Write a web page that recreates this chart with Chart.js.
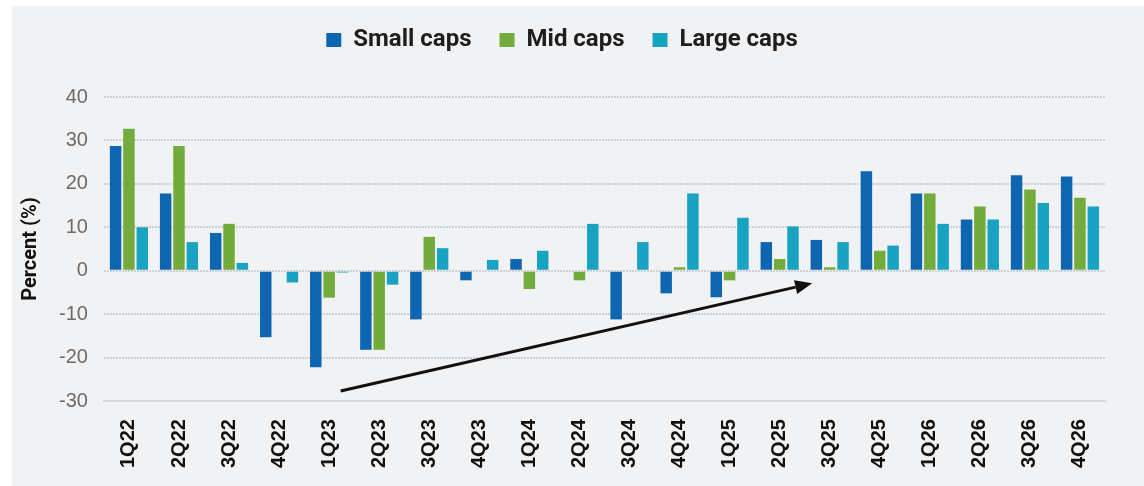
<!DOCTYPE html>
<html>
<head>
<meta charset="utf-8">
<script src="https://cdn.jsdelivr.net/npm/chart.js@4"></script>
<style>
  html, body { margin: 0; padding: 0; background: #ffffff; }
  #panel { position: absolute; left: 12px; top: 6px; width: 1132px; height: 480px; background: #f1f2f4; }
  #wrap { position: absolute; left: 0; top: 0; width: 1144px; height: 486px; }
</style>
</head>
<body>
<div id="panel"></div>
<div id="wrap"><canvas id="myChart"></canvas></div>
<script>
const quarters = ['1Q22','2Q22','3Q22','4Q22','1Q23','2Q23','3Q23','4Q23','1Q24','2Q24',
                  '3Q24','4Q24','1Q25','2Q25','3Q25','4Q25','1Q26','2Q26','3Q26','4Q26'];
const smallCaps = [28.7, 17.8, 8.7, -15.3, -22.2, -18.2, -11.2, -2.2, 2.7, 0,
                   -11.2, -5.2, -6.1, 6.6, 7.1, 22.9, 17.8, 11.8, 22, 21.7];
const midCaps   = [32.7, 28.7, 10.8, 0, -6.2, -18.2, 7.8, 0, -4.2, -2.2,
                   0, 0.8, -2.2, 2.7, 0.8, 4.6, 17.8, 14.8, 18.7, 16.8];
const largeCaps = [10, 6.6, 1.8, -2.7, -0.4, -3.2, 5.2, 2.5, 4.6, 10.8,
                   6.6, 17.8, 12.2, 10.2, 6.6, 5.8, 10.8, 11.8, 15.6, 14.8];
const yTicks = [40, 30, 20, 10, 0, -10, -20, -30];
// trend arrow, in data units (category index, percent)
const arrowFrom = [4.23, -27.7];
const arrowTo   = [13.65, -2.9];

const ctx = document.getElementById('myChart').getContext('2d');

// a little more room under the legend
const legendSpace = {
  id: 'legendSpace',
  beforeLayout(chart) {
    const lg = chart.legend;
    if (!lg || lg._patched) return;
    const origFit = lg.fit;
    lg.fit = function () {
      origFit.call(this);
      this.height += 35;
    };
    lg._patched = true;
  }
};

const trendArrow = {
  id: 'trendArrow',
  afterDatasetsDraw(chart) {
    const x = chart.scales.x, y = chart.scales.y;
    const c = chart.ctx;
    const px = v => x.getPixelForValue(0) + v * (x.getPixelForValue(1) - x.getPixelForValue(0));
    const x1 = px(arrowFrom[0]), y1 = y.getPixelForValue(arrowFrom[1]);
    const x2 = px(arrowTo[0]), y2 = y.getPixelForValue(arrowTo[1]);
    const ang = Math.atan2(y2 - y1, x2 - x1);
    const head = 17, half = 7;
    c.save();
    c.strokeStyle = '#111';
    c.fillStyle = '#111';
    c.lineWidth = 3;
    c.beginPath();
    c.moveTo(x1, y1);
    c.lineTo(x2 - head * Math.cos(ang), y2 - head * Math.sin(ang));
    c.stroke();
    c.beginPath();
    c.moveTo(x2, y2);
    c.lineTo(x2 - head * Math.cos(ang) + half * Math.sin(ang), y2 - head * Math.sin(ang) - half * Math.cos(ang));
    c.lineTo(x2 - head * Math.cos(ang) - half * Math.sin(ang), y2 - head * Math.sin(ang) + half * Math.cos(ang));
    c.closePath();
    c.fill();
    c.restore();
  }
};

const chart = new Chart(ctx, {
  type: 'bar',
  data: {
    labels: quarters,
    datasets: [
      { label: 'Small caps', data: smallCaps, backgroundColor: '#0f66b0' },
      { label: 'Mid caps', data: midCaps, backgroundColor: '#73ac3d' },
      { label: 'Large caps', data: largeCaps, backgroundColor: '#19a3c2' }
    ]
  },
  options: {
    responsive: true,
    maintainAspectRatio: false,
    animation: false,
    layout: { padding: { top: 0, right: 39, bottom: 0, left: 19 } },
    datasets: { bar: { categoryPercentage: 0.8, barPercentage: 0.86 } },
    plugins: {
      tooltip: { enabled: false },
      legend: {
        display: true,
        position: 'top',
        labels: {
          boxWidth: 15,
          boxHeight: 14,
          padding: 28,
          color: '#1e1e1e',
          font: { family: 'Roboto', size: 24, weight: 'bold' }
        }
      }
    },
    scales: {
      x: {
        grid: { display: false, drawTicks: false },
        border: { display: true, color: '#d6d8db', width: 2 },
        ticks: {
          minRotation: 90,
          maxRotation: 90,
          padding: 18,
          autoSkip: false,
          color: '#111',
          font: { family: 'Liberation Sans', size: 20, weight: 'bold' }
        }
      },
      y: {
        min: -30,
        max: 40,
        afterBuildTicks(scale) { scale.ticks = yTicks.map(v => ({ value: v })); },
        grid: {
          drawTicks: false,
          color: c => c.tick.value === -30 ? 'rgba(0,0,0,0)' : '#cdd0d4',
          lineWidth: 2
        },
        border: { display: false, dash: [2, 1] },
        ticks: {
          padding: 16,
          color: '#6b6b6b',
          font: { family: 'Liberation Sans', size: 20 }
        },
        title: {
          display: true,
          text: 'Percent (%)',
          color: '#111',
          padding: { top: 0, bottom: 0 },
          font: { family: 'Roboto', size: 20, weight: 'bold' }
        }
      }
    }
  },
  plugins: [legendSpace, trendArrow]
});
</script>
</body>
</html>
